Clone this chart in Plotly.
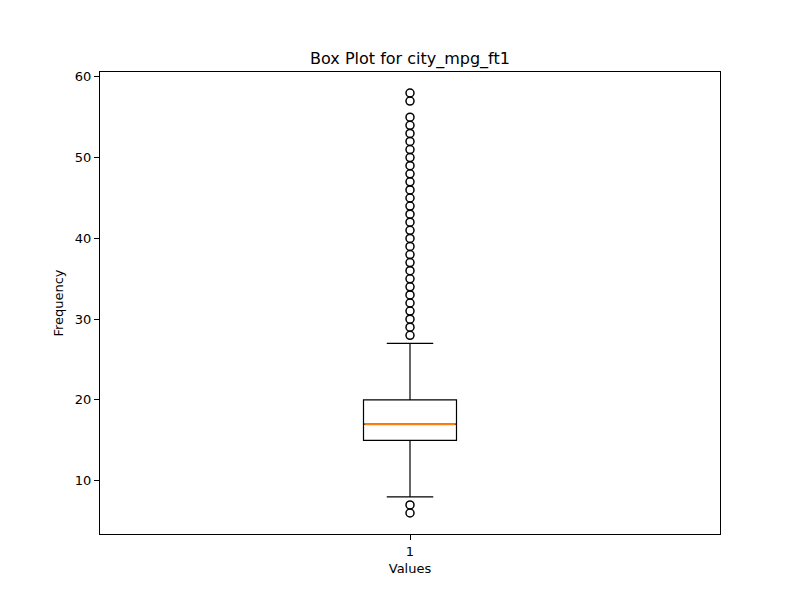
import plotly.graph_objects as go

position = [1]
q1 = [15]
median = [17]
q3 = [20]
lower_whisker = [8]
upper_whisker = [27]
outliers_low = [6, 7]
outliers_high = list(range(28, 56)) + [57, 58]
outliers = outliers_low + outliers_high
box_width = 0.15

fig = go.Figure()
fig.add_trace(go.Box(
    x=position, q1=q1, median=median, q3=q3,
    lowerfence=lower_whisker, upperfence=upper_whisker,
    width=box_width, whiskerwidth=0.5,
    fillcolor="rgba(0,0,0,0)", line=dict(color="black", width=1.2),
    boxpoints=False, showlegend=False, hoverinfo="skip",
))
fig.add_trace(go.Scatter(
    x=[position[0] - box_width / 2 + 0.002, position[0] + box_width / 2 - 0.002],
    y=[median[0], median[0]], mode="lines",
    line=dict(color="#ff7f0e", width=2), showlegend=False, hoverinfo="skip",
))
fig.add_trace(go.Scatter(
    x=[position[0]] * len(outliers), y=outliers, mode="markers",
    marker=dict(symbol="circle-open", size=8, color="black", line=dict(width=1.5, color="black")),
    showlegend=False,
))

fig.update_layout(
    width=800, height=600,
    margin=dict(l=100, r=80, t=72, b=66),
    paper_bgcolor="white", plot_bgcolor="white",
    font=dict(family="DejaVu Sans", size=13, color="black"),
    title=dict(text="Box Plot for city_mpg_ft1", x=0.5125, xanchor="center",
               y=1 - 58 / 600, yanchor="middle", yref="container",
               font=dict(size=16, color="black")),
    xaxis=dict(range=[0.5, 1.5], tickmode="array", tickvals=[1], ticktext=["1"],
               showline=True, mirror=True, linecolor="black", linewidth=1,
               ticks="outside", ticklen=5, tickcolor="black", showgrid=False, zeroline=False,
               title=dict(text="Values", standoff=6, font=dict(size=13))),
    yaxis=dict(range=[3.4, 60.6], tickvals=[10, 20, 30, 40, 50, 60],
               showline=True, mirror=True, linecolor="black", linewidth=1,
               ticks="outside", ticklen=5, tickcolor="black", showgrid=False, zeroline=False,
               title=dict(text="Frequency", standoff=8, font=dict(size=13))),
)
fig.write_html("out.html")
